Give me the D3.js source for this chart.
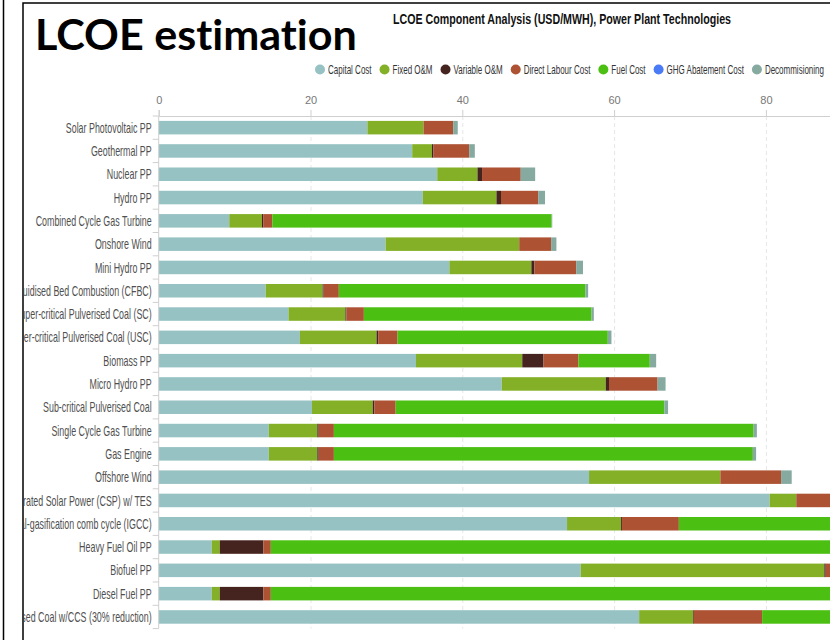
<!DOCTYPE html>
<html>
<head>
<meta charset="utf-8">
<script src="https://cdn.jsdelivr.net/npm/d3@7"></script>
<style>
  body { margin: 0; background: #fff; }
  svg { display: block; }
  .heading { font-feature-settings: "liga" 0, "clig" 0, "dlig" 0; font-variant-ligatures: none; }
</style>
</head>
<body>
<div id="chart"></div>
<script>
// categories, top to bottom
const categories = [
    "Solar Photovoltaic PP", "Geothermal PP", "Nuclear PP", "Hydro PP",
    "Combined Cycle Gas Turbine", "Onshore Wind", "Mini Hydro PP",
    "Circulating Fluidised Bed Combustion (CFBC)", "Super-critical Pulverised Coal (SC)",
    "Ultra Super-critical Pulverised Coal (USC)", "Biomass PP", "Micro Hydro PP",
    "Sub-critical Pulverised Coal", "Single Cycle Gas Turbine", "Gas Engine", "Offshore Wind",
    "Concentrated Solar Power (CSP) w/ TES", "Integrated Coal-gasification comb cycle (IGCC)",
    "Heavy Fuel Oil PP", "Biofuel PP", "Diesel Fuel PP", "Pulverised Coal w/CCS (30% reduction)"
];

// USD/MWh per component
const capitalCost    = [27.5, 33.4, 36.7, 34.8, 9.3, 29.9, 38.3, 14.1, 17.1, 18.6, 33.9, 45.2, 20.2, 14.5, 14.5, 56.7, 80.5, 53.8, 7.0, 55.6, 7.0, 63.3];
const fixedOM        = [7.4, 2.6, 5.3, 9.7, 4.3, 17.6, 10.8, 7.5, 7.5, 10.1, 14.0, 13.7, 8.0, 6.4, 6.4, 17.3, 3.5, 7.1, 1.05, 32.1, 1.05, 7.1];
const variableOM     = [0, 0.2, 0.6, 0.6, 0.17, 0, 0.4, 0.13, 0.13, 0.22, 2.8, 0.43, 0.22, 0.18, 0.18, 0, 0, 0.13, 5.75, 0.18, 5.75, 0.1];
const directLabour   = [3.9, 4.7, 5.1, 4.9, 1.2, 4.2, 5.5, 2.0, 2.3, 2.55, 4.6, 6.4, 2.8, 2.0, 2.0, 8.0, 10.5, 7.5, 0.97, 6.5, 0.97, 9.0];
const fuelCost       = [0, 0, 0, 0, 36.8, 0, 0, 32.5, 30.0, 27.7, 9.4, 0, 35.4, 55.3, 55.2, 0, 0, 30.0, 105, 25, 110, 45];
const ghgAbatement   = [0, 0, 0, 0, 0, 0, 0, 0, 0, 0, 0, 0, 0, 0, 0, 0, 0, 0, 0, 0, 0, 0];
const decommisioning = [0.6, 0.75, 1.9, 0.9, 0.08, 0.7, 0.9, 0.35, 0.3, 0.48, 0.84, 1.05, 0.49, 0.43, 0.43, 1.4, 1.8, 0.8, 0.5, 1.0, 0.5, 0.7];

const seriesNames = ["Capital Cost", "Fixed O&M", "Variable O&M", "Direct Labour Cost", "Fuel Cost", "GHG Abatement Cost", "Decommisioning"];
const seriesValues = [capitalCost, fixedOM, variableOM, directLabour, fuelCost, ghgAbatement, decommisioning];
const seriesColors = ["#97c2c3", "#83b026", "#45241f", "#ad5232", "#4bbf12", "#4a7bf7", "#86aaa0"];
const xTicks = [0, 20, 40, 60, 80];

const narrow = "'Liberation Sans Narrow', 'Arial Narrow', 'Liberation Sans', Arial, sans-serif";

// table for d3.stack
const rows = categories.map((c, i) => {
    const r = { category: c };
    seriesNames.forEach((s, j) => r[s] = seriesValues[j][i]);
    return r;
});

const width = 830;
const height = 640;
const margin = { top: 116, left: 158.7 };

const svg = d3.select("#chart").append("svg")
    .attr("width", width)
    .attr("height", height);

svg.append("defs").append("clipPath")
    .attr("id", "frameClip")
    .append("rect")
    .attr("x", 24).attr("y", 4)
    .attr("width", width - 24).attr("height", height - 4);

const chart = svg.append("g").attr("clip-path", "url(#frameClip)");

var x = d3.scaleLinear()
    .domain([0, 100])
    .range([margin.left, margin.left + 759]);

var y = d3.scaleBand()
    .domain(categories)
    .range([margin.top, 628.6])
    .paddingInner(0.42)
    .paddingOuter(0.21);

// dashed grid
chart.append("g")
    .attr("stroke", "#e6e6e6")
    .attr("stroke-dasharray", "4,3")
    .selectAll("line")
    .data(xTicks.filter(d => d > 0))
    .join("line")
    .attr("x1", d => x(d) + 0.5).attr("x2", d => x(d) + 0.5)
    .attr("y1", margin.top).attr("y2", y.range()[1]);

// stacked bars
const stack = d3.stack().keys(seriesNames);
const layers = stack(rows);

chart.append("g")
    .selectAll("g")
    .data(layers)
    .join("g")
    .attr("fill", (d, i) => seriesColors[i])
    .selectAll("rect")
    .data(d => d.filter(s => s[1] - s[0] > 0))
    .join("rect")
    .attr("x", d => x(d[0]))
    .attr("y", d => y(d.data.category))
    .attr("width", d => x(d[1]) - x(d[0]))
    .attr("height", y.bandwidth());

// top axis (line runs on past the visible edge)
const xAxis = chart.append("g")
    .attr("transform", `translate(0,${margin.top})`)
    .call(d3.axisTop(x).tickValues(xTicks).tickSize(6).tickPadding(6));
xAxis.select(".domain").attr("stroke", "#cfcfcf");
xAxis.selectAll(".tick line").attr("stroke", "#cfcfcf");
xAxis.selectAll(".tick text")
    .attr("fill", "#777")
    .attr("font-family", narrow)
    .attr("font-size", 11);

// left axis line and band boundary ticks
const gap = y.step() - y.bandwidth();
const boundaries = categories.map(c => y(c) - gap / 2).concat([y(categories[categories.length - 1]) + y.bandwidth() + gap / 2]);

chart.append("line")
    .attr("stroke", "#cfcfcf")
    .attr("x1", x(0)).attr("x2", x(0))
    .attr("y1", margin.top).attr("y2", boundaries[boundaries.length - 1]);

chart.append("g")
    .attr("stroke", "#cfcfcf")
    .selectAll("line")
    .data(boundaries)
    .join("line")
    .attr("x1", x(0) - 6).attr("x2", x(0))
    .attr("y1", d => d).attr("y2", d => d);

// category labels (narrow, squeezed like the original)
const labels = chart.append("g")
    .attr("font-family", narrow)
    .attr("font-size", 14)
    .attr("fill", "#505050")
    .attr("text-anchor", "end")
    .selectAll("g")
    .data(categories)
    .join("g")
    .attr("transform", d => `translate(${x(0) - 7},${y(d) + y.bandwidth() / 2})`)
    .append("text")
    .attr("dy", "0.36em")
    .text(d => d);

const labelScale = 86 / labels.nodes()[0].getComputedTextLength();
labels.attr("transform", `scale(${labelScale},1)`);

// legend
const legend = svg.append("g")
    .attr("font-family", narrow)
    .attr("font-size", 12)
    .attr("fill", "#333");

const legendItems = legend.selectAll("g")
    .data(seriesNames)
    .join("g");

legendItems.append("circle")
    .attr("r", 5)
    .attr("cx", 5)
    .attr("cy", 0)
    .attr("fill", (d, i) => seriesColors[i]);

const legendText = legendItems.append("text")
    .attr("dy", "0.35em")
    .text(d => d);

const legendScale = 43.6 / legendText.nodes()[0].getComputedTextLength();
legendText.attr("transform", `translate(13,0) scale(${legendScale},1)`);

let lx = 315;
legendItems.each(function (d, i) {
    d3.select(this).attr("transform", `translate(${lx},69.5)`);
    lx += 13 + legendText.nodes()[i].getComputedTextLength() * legendScale + 8;
});

// chart title
svg.append("text")
    .attr("x", 393)
    .attr("y", 24)
    .attr("font-family", narrow)
    .attr("font-size", 15)
    .attr("font-weight", "bold")
    .attr("fill", "#111")
    .attr("textLength", 338)
    .attr("lengthAdjust", "spacingAndGlyphs")
    .text("LCOE Component Analysis (USD/MWH), Power Plant Technologies");

// slide heading
const heading = svg.append("text")
    .attr("class", "heading")
    .attr("x", 35)
    .attr("y", 50)
    .attr("font-family", "Lato, 'Open Sans', sans-serif")
    .attr("font-size", 42)
    .attr("font-weight", "bold")
    .attr("fill", "#000")
    .text("LCOE estimation");
const headingScale = 322 / heading.node().getComputedTextLength();
heading.attr("transform", `translate(35,0) scale(${headingScale},1) translate(-35,0)`);

// slide frame
const frame = svg.append("g")
    .attr("stroke", "#000")
    .attr("stroke-width", 1.5)
    .attr("fill", "none");
frame.append("line").attr("x1", 3.5).attr("x2", 3.5).attr("y1", 0).attr("y2", height);
frame.append("path").attr("d", `M23,${height}V3H${width}`);
</script>
</body>
</html>
